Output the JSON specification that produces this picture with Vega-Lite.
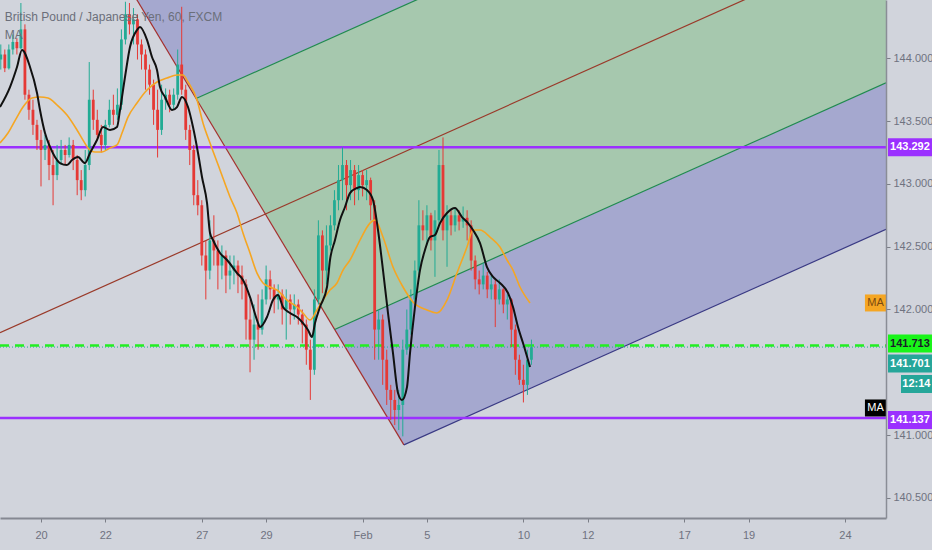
{
  "$schema": "https://vega.github.io/schema/vega-lite/v6.json",
  "width": 886,
  "height": 518,
  "autosize": {"type": "none"},
  "padding": {"left": 0, "top": 0, "right": 46, "bottom": 32},
  "background": "#d1d4dc",
  "datasets": {
    "candles": [
      {"d":-1.25,"o":143.99,"h":144.11,"l":143.91,"c":144.03},
      {"d":-1.125,"o":144.03,"h":144.07,"l":143.89,"c":143.92},
      {"d":-1,"o":143.92,"h":144.11,"l":143.91,"c":144.07},
      {"d":-0.875,"o":144.07,"h":144.19,"l":144.03,"c":144.13},
      {"d":-0.75,"o":144.13,"h":144.16,"l":144.03,"c":144.08},
      {"d":-0.625,"o":144.08,"h":144.44,"l":144.07,"c":144.23},
      {"d":-0.5,"o":144.23,"h":144.27,"l":143.67,"c":143.71},
      {"d":-0.375,"o":143.71,"h":143.75,"l":143.51,"c":143.59},
      {"d":-0.25,"o":143.59,"h":143.67,"l":143.39,"c":143.47},
      {"d":-0.125,"o":143.47,"h":143.51,"l":143.27,"c":143.35},
      {"d":0,"o":143.35,"h":143.43,"l":142.98,"c":143.27},
      {"d":0.125,"o":143.27,"h":143.39,"l":143.19,"c":143.31},
      {"d":0.25,"o":143.31,"h":143.35,"l":143.03,"c":143.15},
      {"d":0.375,"o":143.15,"h":143.27,"l":142.83,"c":143.07},
      {"d":0.5,"o":143.07,"h":143.31,"l":143.03,"c":143.19},
      {"d":0.625,"o":143.19,"h":143.35,"l":143.15,"c":143.27},
      {"d":0.75,"o":143.27,"h":143.31,"l":143.15,"c":143.23},
      {"d":0.875,"o":143.23,"h":143.37,"l":143.21,"c":143.31},
      {"d":1,"o":143.31,"h":143.35,"l":143.11,"c":143.19},
      {"d":1.125,"o":143.19,"h":143.23,"l":142.91,"c":143.03},
      {"d":1.25,"o":143.03,"h":143.11,"l":142.87,"c":142.95},
      {"d":1.375,"o":142.95,"h":143.27,"l":142.9,"c":143.15},
      {"d":1.5,"o":143.15,"h":143.97,"l":143.11,"c":143.67},
      {"d":1.625,"o":143.67,"h":143.75,"l":143.43,"c":143.51},
      {"d":1.75,"o":143.51,"h":143.59,"l":143.35,"c":143.39},
      {"d":1.875,"o":143.39,"h":143.47,"l":143.25,"c":143.31},
      {"d":2,"o":143.31,"h":143.51,"l":143.27,"c":143.47},
      {"d":2.125,"o":143.47,"h":143.67,"l":143.45,"c":143.59},
      {"d":2.25,"o":143.59,"h":143.71,"l":143.47,"c":143.55},
      {"d":2.375,"o":143.55,"h":143.76,"l":143.51,"c":143.63},
      {"d":2.5,"o":143.63,"h":144.23,"l":143.59,"c":144.15},
      {"d":2.625,"o":144.15,"h":144.45,"l":144.11,"c":144.35},
      {"d":2.75,"o":144.35,"h":144.44,"l":144.19,"c":144.27},
      {"d":2.875,"o":144.27,"h":144.4,"l":144.11,"c":144.31},
      {"d":3,"o":144.31,"h":144.35,"l":143.99,"c":144.11},
      {"d":3.125,"o":144.11,"h":144.15,"l":143.91,"c":144.03},
      {"d":3.25,"o":144.03,"h":144.07,"l":143.75,"c":143.91},
      {"d":3.375,"o":143.91,"h":143.95,"l":143.71,"c":143.79},
      {"d":3.5,"o":143.79,"h":143.83,"l":143.47,"c":143.59},
      {"d":3.625,"o":143.59,"h":143.75,"l":143.21,"c":143.43},
      {"d":3.75,"o":143.43,"h":143.79,"l":143.39,"c":143.67},
      {"d":3.875,"o":143.67,"h":143.76,"l":143.59,"c":143.71},
      {"d":4,"o":143.71,"h":143.75,"l":143.57,"c":143.63},
      {"d":4.125,"o":143.63,"h":143.76,"l":143.59,"c":143.71},
      {"d":4.25,"o":143.71,"h":144.07,"l":143.67,"c":143.95},
      {"d":4.375,"o":143.95,"h":144.41,"l":143.71,"c":143.75},
      {"d":4.5,"o":143.75,"h":143.79,"l":143.35,"c":143.43},
      {"d":4.625,"o":143.43,"h":143.47,"l":143.15,"c":143.27},
      {"d":4.75,"o":143.27,"h":143.31,"l":142.83,"c":142.91},
      {"d":4.875,"o":142.91,"h":143.03,"l":142.75,"c":142.83},
      {"d":5,"o":142.83,"h":142.87,"l":142.35,"c":142.43},
      {"d":5.125,"o":142.43,"h":142.55,"l":142.08,"c":142.31},
      {"d":5.25,"o":142.31,"h":142.71,"l":142.24,"c":142.55},
      {"d":5.375,"o":142.55,"h":142.75,"l":142.35,"c":142.47},
      {"d":5.5,"o":142.47,"h":142.55,"l":142.16,"c":142.35},
      {"d":5.625,"o":142.35,"h":142.51,"l":142.24,"c":142.43},
      {"d":5.75,"o":142.43,"h":142.47,"l":142.13,"c":142.27},
      {"d":5.875,"o":142.27,"h":142.43,"l":142.16,"c":142.31},
      {"d":6,"o":142.31,"h":142.43,"l":142.2,"c":142.35},
      {"d":6.125,"o":142.35,"h":142.39,"l":142.13,"c":142.27},
      {"d":6.25,"o":142.27,"h":142.35,"l":142.08,"c":142.2},
      {"d":6.375,"o":142.2,"h":142.24,"l":141.76,"c":141.92},
      {"d":6.5,"o":141.92,"h":142.08,"l":141.5,"c":141.76},
      {"d":6.625,"o":141.76,"h":142.04,"l":141.6,"c":141.88},
      {"d":6.75,"o":141.88,"h":142.12,"l":141.68,"c":141.84},
      {"d":6.875,"o":141.84,"h":142.16,"l":141.8,"c":142.08},
      {"d":7,"o":142.08,"h":142.35,"l":142.04,"c":142.24},
      {"d":7.125,"o":142.24,"h":142.31,"l":142.08,"c":142.16},
      {"d":7.25,"o":142.16,"h":142.2,"l":141.97,"c":142.08},
      {"d":7.375,"o":142.08,"h":142.2,"l":142,"c":142.12},
      {"d":7.5,"o":142.12,"h":142.16,"l":141.88,"c":142},
      {"d":7.625,"o":142,"h":142.16,"l":141.76,"c":142.08},
      {"d":7.75,"o":142.08,"h":142.12,"l":141.88,"c":142},
      {"d":7.875,"o":142,"h":142.12,"l":141.92,"c":142.04},
      {"d":8,"o":142.04,"h":142.08,"l":141.88,"c":141.96},
      {"d":8.125,"o":141.96,"h":142,"l":141.73,"c":141.88},
      {"d":8.25,"o":141.88,"h":141.92,"l":141.56,"c":141.68},
      {"d":8.375,"o":141.68,"h":141.76,"l":141.28,"c":141.52},
      {"d":8.5,"o":141.52,"h":142.16,"l":141.48,"c":142.08},
      {"d":8.625,"o":142.08,"h":142.71,"l":142.04,"c":142.59},
      {"d":8.75,"o":142.59,"h":142.63,"l":142.13,"c":142.31},
      {"d":8.875,"o":142.31,"h":142.67,"l":142.2,"c":142.51},
      {"d":9,"o":142.51,"h":142.75,"l":142.47,"c":142.67},
      {"d":9.125,"o":142.67,"h":142.95,"l":142.63,"c":142.87},
      {"d":9.25,"o":142.87,"h":143.15,"l":142.79,"c":143.03},
      {"d":9.375,"o":143.03,"h":143.29,"l":142.87,"c":143.15},
      {"d":9.5,"o":143.15,"h":143.19,"l":142.79,"c":142.99},
      {"d":9.625,"o":142.99,"h":143.19,"l":142.87,"c":143.11},
      {"d":9.75,"o":143.11,"h":143.15,"l":142.83,"c":142.95},
      {"d":9.875,"o":142.95,"h":143.15,"l":142.87,"c":143.07},
      {"d":10,"o":143.07,"h":143.11,"l":142.9,"c":142.99},
      {"d":10.125,"o":142.99,"h":143.11,"l":142.87,"c":143.03},
      {"d":10.25,"o":143.03,"h":143.05,"l":142.71,"c":142.83},
      {"d":10.375,"o":142.83,"h":142.87,"l":141.6,"c":141.84},
      {"d":10.5,"o":141.84,"h":142,"l":141.6,"c":141.92},
      {"d":10.625,"o":141.92,"h":141.96,"l":141.4,"c":141.6},
      {"d":10.75,"o":141.6,"h":141.68,"l":141.24,"c":141.36},
      {"d":10.875,"o":141.36,"h":141.4,"l":141.12,"c":141.28},
      {"d":11,"o":141.28,"h":141.36,"l":141.08,"c":141.2},
      {"d":11.125,"o":141.2,"h":141.36,"l":141.04,"c":141.24},
      {"d":11.25,"o":141.24,"h":141.76,"l":140.99,"c":141.68},
      {"d":11.375,"o":141.68,"h":142,"l":141.64,"c":141.84},
      {"d":11.5,"o":141.84,"h":142.16,"l":141.8,"c":142.08},
      {"d":11.625,"o":142.08,"h":142.39,"l":142.04,"c":142.31},
      {"d":11.75,"o":142.31,"h":142.87,"l":142.27,"c":142.67},
      {"d":11.875,"o":142.67,"h":142.79,"l":142.55,"c":142.63},
      {"d":12,"o":142.63,"h":142.83,"l":142.51,"c":142.75},
      {"d":12.125,"o":142.75,"h":142.77,"l":142.47,"c":142.55},
      {"d":12.25,"o":142.55,"h":142.79,"l":142.26,"c":142.71},
      {"d":12.375,"o":142.71,"h":143.27,"l":142.67,"c":143.15},
      {"d":12.5,"o":143.15,"h":143.37,"l":142.55,"c":142.63},
      {"d":12.625,"o":142.63,"h":142.83,"l":142.34,"c":142.75},
      {"d":12.75,"o":142.75,"h":142.79,"l":142.59,"c":142.67},
      {"d":12.875,"o":142.67,"h":142.81,"l":142.62,"c":142.75},
      {"d":13,"o":142.75,"h":142.79,"l":142.63,"c":142.7},
      {"d":13.125,"o":142.7,"h":142.82,"l":142.65,"c":142.73},
      {"d":13.25,"o":142.73,"h":142.79,"l":142.55,"c":142.67},
      {"d":13.375,"o":142.67,"h":142.71,"l":142.31,"c":142.39},
      {"d":13.5,"o":142.39,"h":142.43,"l":142.16,"c":142.24},
      {"d":13.625,"o":142.24,"h":142.31,"l":142.12,"c":142.2},
      {"d":13.75,"o":142.2,"h":142.37,"l":142.16,"c":142.27},
      {"d":13.875,"o":142.27,"h":142.3,"l":142.09,"c":142.16},
      {"d":14,"o":142.16,"h":142.27,"l":142.08,"c":142.2},
      {"d":14.125,"o":142.2,"h":142.24,"l":141.86,"c":142.08},
      {"d":14.25,"o":142.08,"h":142.24,"l":142.04,"c":142.16},
      {"d":14.375,"o":142.16,"h":142.17,"l":141.97,"c":142.04},
      {"d":14.5,"o":142.04,"h":142.12,"l":141.92,"c":142.08},
      {"d":14.625,"o":142.08,"h":142.09,"l":141.7,"c":141.84},
      {"d":14.75,"o":141.84,"h":141.88,"l":141.48,"c":141.6},
      {"d":14.875,"o":141.6,"h":141.64,"l":141.4,"c":141.44},
      {"d":15,"o":141.44,"h":141.56,"l":141.26,"c":141.4},
      {"d":15.125,"o":141.4,"h":141.68,"l":141.32,"c":141.6},
      {"d":15.25,"o":141.6,"h":141.76,"l":141.56,"c":141.7}
    ],
    "maFast": [
      {"d":-1.275,"p":143.612},{"d":-0.964,"p":143.771},{"d":-0.746,"p":143.931},{"d":-0.591,"p":144.066},
      {"d":-0.342,"p":143.931},{"d":-0.124,"p":143.724},{"d":-0.031,"p":143.588},{"d":0.124,"p":143.405},
      {"d":0.28,"p":143.294},{"d":0.435,"p":143.214},{"d":0.591,"p":143.166},{"d":0.808,"p":143.15},
      {"d":0.964,"p":143.19},{"d":1.15,"p":143.214},{"d":1.368,"p":143.166},{"d":1.524,"p":143.246},
      {"d":1.741,"p":143.349},{"d":1.928,"p":143.453},{"d":2.146,"p":143.429},{"d":2.363,"p":143.453},
      {"d":2.456,"p":143.588},{"d":2.612,"p":143.851},{"d":2.767,"p":144.09},{"d":2.985,"p":144.225},
      {"d":3.078,"p":144.249},{"d":3.296,"p":144.146},{"d":3.451,"p":144.01},{"d":3.607,"p":143.907},
      {"d":3.7,"p":143.771},{"d":3.856,"p":143.692},{"d":4.073,"p":143.588},{"d":4.229,"p":143.612},
      {"d":4.384,"p":143.692},{"d":4.571,"p":143.612},{"d":4.726,"p":143.453},{"d":4.882,"p":143.246},
      {"d":5.006,"p":143.055},{"d":5.162,"p":142.848},{"d":5.255,"p":142.609},{"d":5.348,"p":142.553},
      {"d":5.566,"p":142.45},{"d":5.784,"p":142.394},{"d":6.095,"p":142.29},{"d":6.281,"p":142.235},
      {"d":6.499,"p":142.099},{"d":6.716,"p":141.916},{"d":6.81,"p":141.86},{"d":7.027,"p":141.94},
      {"d":7.214,"p":142.075},{"d":7.369,"p":142.115},{"d":7.525,"p":142.02},{"d":7.743,"p":141.972},
      {"d":7.96,"p":141.94},{"d":8.147,"p":141.892},{"d":8.302,"p":141.837},{"d":8.427,"p":141.781},
      {"d":8.52,"p":141.892},{"d":8.675,"p":142.02},{"d":8.893,"p":142.179},{"d":8.986,"p":142.394},
      {"d":9.142,"p":142.553},{"d":9.297,"p":142.712},{"d":9.453,"p":142.816},{"d":9.608,"p":142.927},
      {"d":9.826,"p":142.967},{"d":9.919,"p":142.975},{"d":10.137,"p":142.951},{"d":10.323,"p":142.872},
      {"d":10.479,"p":142.633},{"d":10.634,"p":142.314},{"d":10.79,"p":141.972},{"d":10.945,"p":141.653},
      {"d":11.101,"p":141.335},{"d":11.225,"p":141.279},{"d":11.381,"p":141.383},{"d":11.474,"p":141.653},
      {"d":11.629,"p":142.02},{"d":11.785,"p":142.314},{"d":11.94,"p":142.474},{"d":12.096,"p":142.577},
      {"d":12.251,"p":142.593},{"d":12.407,"p":142.688},{"d":12.624,"p":142.768},{"d":12.873,"p":142.808},
      {"d":13.091,"p":142.736},{"d":13.277,"p":142.688},{"d":13.433,"p":142.633},{"d":13.651,"p":142.529},
      {"d":13.868,"p":142.338},{"d":14.055,"p":142.259},{"d":14.272,"p":142.211},{"d":14.521,"p":142.131},
      {"d":14.677,"p":142.02},{"d":14.832,"p":141.86},{"d":14.988,"p":141.733},{"d":15.206,"p":141.542}
    ],
    "maSlow": [
      {"d":-1.275,"p":143.325},{"d":-1.026,"p":143.405},{"d":-0.746,"p":143.532},{"d":-0.56,"p":143.612},
      {"d":-0.28,"p":143.684},{"d":-0.031,"p":143.692},{"d":0.218,"p":143.684},{"d":0.498,"p":143.628},
      {"d":0.808,"p":143.548},{"d":1.119,"p":143.429},{"d":1.306,"p":143.349},{"d":1.461,"p":143.286},
      {"d":1.679,"p":143.254},{"d":1.897,"p":143.254},{"d":2.146,"p":143.286},{"d":2.363,"p":143.31},
      {"d":2.519,"p":143.405},{"d":2.705,"p":143.532},{"d":2.985,"p":143.644},{"d":3.296,"p":143.747},
      {"d":3.607,"p":143.811},{"d":3.918,"p":143.843},{"d":4.229,"p":143.867},{"d":4.415,"p":143.867},
      {"d":4.571,"p":143.811},{"d":4.851,"p":143.668},{"d":5.037,"p":143.485},{"d":5.255,"p":143.325},
      {"d":5.566,"p":143.111},{"d":5.877,"p":142.896},{"d":6.095,"p":142.768},{"d":6.281,"p":142.609},
      {"d":6.499,"p":142.45},{"d":6.716,"p":142.29},{"d":6.903,"p":142.211},{"d":7.121,"p":142.179},
      {"d":7.338,"p":142.155},{"d":7.649,"p":142.075},{"d":7.96,"p":142.02},{"d":8.147,"p":141.972},
      {"d":8.364,"p":141.916},{"d":8.582,"p":141.996},{"d":8.769,"p":142.075},{"d":8.986,"p":142.155},
      {"d":9.204,"p":142.211},{"d":9.391,"p":142.314},{"d":9.608,"p":142.394},{"d":9.919,"p":142.553},
      {"d":10.23,"p":142.688},{"d":10.386,"p":142.712},{"d":10.634,"p":142.577},{"d":10.945,"p":142.338},
      {"d":11.256,"p":142.179},{"d":11.567,"p":142.06},{"d":12.002,"p":141.996},{"d":12.313,"p":141.972},
      {"d":12.624,"p":142.075},{"d":12.935,"p":142.29},{"d":13.246,"p":142.497},{"d":13.433,"p":142.633},
      {"d":13.651,"p":142.633},{"d":13.962,"p":142.577},{"d":14.272,"p":142.497},{"d":14.49,"p":142.394},
      {"d":14.677,"p":142.314},{"d":14.894,"p":142.179},{"d":15.206,"p":142.052}
    ],
    "zones": [
      {"zone":"outer","d":2.668,"p":144.599,"p2":144.599},
      {"zone":"outer","d":4.822,"p":144.846,"p2":143.68},
      {"zone":"outer","d":26.275,"p":147.302,"p2":146.136},
      {"zone":"inner","d":4.822,"p":143.68,"p2":143.68},
      {"zone":"inner","d":9.13,"p":144.173,"p2":141.841},
      {"zone":"inner","d":26.275,"p":146.136,"p2":143.804},
      {"zone":"lower","d":9.13,"p":141.841,"p2":141.841},
      {"zone":"lower","d":11.284,"p":142.088,"p2":140.922},
      {"zone":"lower","d":26.275,"p":143.804,"p2":142.638}
    ],
    "lines": [
      {"line":"cross","d":2.668,"p":144.599},{"line":"cross","d":11.284,"p":140.922},
      {"line":"upper","d":4.822,"p":143.68},{"line":"upper","d":26.275,"p":146.136},
      {"line":"inner","d":9.13,"p":141.841},{"line":"inner","d":26.275,"p":143.804},
      {"line":"lower","d":11.284,"p":140.922},{"line":"lower","d":26.275,"p":142.638},
      {"line":"trend","d":-1.275,"p":141.816},{"line":"trend","d":26.275,"p":144.97}
    ],
    "levels": [
      {"kind":"purple","p":143.292},
      {"kind":"purple","p":141.137},
      {"kind":"last","p":141.701},
      {"kind":"green","p":141.713}
    ],
    "tags": [
      {"kind":"purple","p":143.292,"label":"143.292"},
      {"kind":"green","p":141.729,"label":"141.713"},
      {"kind":"teal","p":141.57,"label":"141.701"},
      {"kind":"purple","p":141.12,"label":"141.137"}
    ],
    "clock": [{"p":141.407,"label":"12:14"}],
    "maTags": [
      {"kind":"slow","p":142.052,"label":"MA"},
      {"kind":"fast","p":141.216,"label":"MA"}
    ],
    "legend": [{"label":"British Pound / Japanese Yen, 60, FXCM\nMA"}]
  },
  "layer": [
    {
      "data": {"name": "zones"},
      "mark": {"type": "area", "clip": true},
      "encoding": {
        "x": {
          "field": "d",
          "type": "quantitative",
          "scale": {"domain": [-1.275, 26.275], "nice": false, "zero": false, "padding": 0},
          "axis": {
            "title": null,
            "zindex": 1,
            "values": [0, 2, 5, 7, 10, 12, 15, 17, 20, 22, 25],
            "labelExpr": "['20','','22','','','27','','29','','','Feb','','5','','','10','','12','','','17','','19','','','24'][datum.value]",
            "labelPadding": 7,
            "domainColor": "#858892",
            "domainWidth": 2
          }
        },
        "y": {
          "field": "p",
          "type": "quantitative",
          "scale": {"domain": [140.34, 144.464], "nice": false, "zero": false},
          "axis": {
            "orient": "right",
            "title": null,
            "zindex": 1,
            "values": [140.5, 141, 142, 142.5, 143, 143.5, 144],
            "format": ".3f",
            "labelPadding": 3,
            "domainColor": "#8a8d96",
            "domainWidth": 1.5
          }
        },
        "y2": {"field": "p2"},
        "color": {
          "field": "zone",
          "type": "nominal",
          "scale": {"domain": ["outer", "inner", "lower"], "range": ["#a5a8cf", "#a6c8ae", "#a5a8cf"]},
          "legend": null
        }
      }
    },
    {
      "data": {"name": "lines"},
      "mark": {"type": "line", "clip": true, "strokeWidth": 1.2},
      "encoding": {
        "x": {"field": "d", "type": "quantitative"},
        "y": {"field": "p", "type": "quantitative"},
        "color": {
          "field": "line",
          "type": "nominal",
          "scale": {"domain": ["cross", "upper", "inner", "lower", "trend"], "range": ["#a5302e", "#1f8a4f", "#1f8a4f", "#3a3a84", "#9a3a2a"]},
          "legend": null
        }
      }
    },
    {
      "data": {"name": "levels"},
      "transform": [{"filter": "datum.kind == 'purple'"}],
      "mark": {"type": "rule", "color": "#9b30ff", "strokeWidth": 2.5},
      "encoding": {
        "x": {"datum": -1.275},
        "x2": {"datum": 26.275},
        "y": {"field": "p", "type": "quantitative"}
      }
    },
    {
      "data": {"name": "levels"},
      "transform": [{"filter": "datum.kind == 'last'"}],
      "mark": {"type": "rule", "color": "#26a69a", "strokeWidth": 1, "strokeDash": [1, 2]},
      "encoding": {
        "x": {"datum": -1.275},
        "x2": {"datum": 26.275},
        "y": {"field": "p", "type": "quantitative"}
      }
    },
    {
      "data": {"name": "levels"},
      "transform": [{"filter": "datum.kind == 'green'"}],
      "mark": {"type": "rule", "color": "#22ee22", "strokeWidth": 2.4, "strokeDash": [9, 6]},
      "encoding": {
        "x": {"datum": -1.275},
        "x2": {"datum": 26.275},
        "y": {"field": "p", "type": "quantitative"}
      }
    },
    {
      "data": {"name": "candles"},
      "mark": {"type": "rule", "strokeWidth": 1},
      "encoding": {
        "x": {"field": "d", "type": "quantitative"},
        "y": {"field": "l", "type": "quantitative"},
        "y2": {"field": "h"},
        "color": {"condition": {"test": "datum.c >= datum.o", "value": "#22ab94"}, "value": "#e53935"}
      }
    },
    {
      "data": {"name": "candles"},
      "mark": {"type": "bar", "width": 2.8},
      "encoding": {
        "x": {"field": "d", "type": "quantitative"},
        "y": {"field": "o", "type": "quantitative"},
        "y2": {"field": "c"},
        "color": {"condition": {"test": "datum.c >= datum.o", "value": "#22ab94"}, "value": "#e53935"}
      }
    },
    {
      "data": {"name": "maSlow"},
      "mark": {"type": "line", "color": "#f5a623", "strokeWidth": 1.6, "interpolate": "monotone"},
      "encoding": {
        "x": {"field": "d", "type": "quantitative"},
        "y": {"field": "p", "type": "quantitative"}
      }
    },
    {
      "data": {"name": "maFast"},
      "mark": {"type": "line", "color": "#111111", "strokeWidth": 2, "interpolate": "monotone"},
      "encoding": {
        "x": {"field": "d", "type": "quantitative"},
        "y": {"field": "p", "type": "quantitative"}
      }
    },
    {
      "data": {"name": "tags"},
      "mark": {"type": "rule", "strokeWidth": 18, "strokeCap": "butt"},
      "encoding": {
        "x": {"datum": 26.337},
        "x2": {"datum": 27.705},
        "y": {"field": "p", "type": "quantitative"},
        "color": {
          "field": "kind",
          "type": "nominal",
          "scale": {"domain": ["purple", "green", "teal"], "range": ["#9b30ff", "#19f519", "#26a69a"]},
          "legend": null
        }
      }
    },
    {
      "data": {"name": "tags"},
      "mark": {"type": "text", "align": "center", "baseline": "middle", "fontSize": 11, "fontWeight": "bold"},
      "encoding": {
        "x": {"datum": 27.02},
        "y": {"field": "p", "type": "quantitative"},
        "text": {"field": "label"},
        "color": {"condition": {"test": "datum.kind == 'green'", "value": "#1b1f2a"}, "value": "#ffffff"}
      }
    },
    {
      "data": {"name": "clock"},
      "mark": {"type": "rule", "strokeWidth": 18, "strokeCap": "butt", "color": "#26a69a"},
      "encoding": {
        "x": {"datum": 26.741},
        "x2": {"datum": 27.705},
        "y": {"field": "p", "type": "quantitative"}
      }
    },
    {
      "data": {"name": "clock"},
      "mark": {"type": "text", "align": "center", "baseline": "middle", "fontSize": 11, "fontWeight": "bold", "color": "#ffffff"},
      "encoding": {
        "x": {"datum": 27.22},
        "y": {"field": "p", "type": "quantitative"},
        "text": {"field": "label"}
      }
    },
    {
      "data": {"name": "maTags"},
      "mark": {"type": "rule", "strokeWidth": 17, "strokeCap": "butt"},
      "encoding": {
        "x": {"datum": 25.62},
        "x2": {"datum": 26.275},
        "y": {"field": "p", "type": "quantitative"},
        "color": {
          "field": "kind",
          "type": "nominal",
          "scale": {"domain": ["slow", "fast"], "range": ["#f5a623", "#000000"]},
          "legend": null
        }
      }
    },
    {
      "data": {"name": "maTags"},
      "mark": {"type": "text", "align": "center", "baseline": "middle", "fontSize": 11},
      "encoding": {
        "x": {"datum": 25.948},
        "y": {"field": "p", "type": "quantitative"},
        "text": {"field": "label"},
        "color": {"condition": {"test": "datum.kind == 'slow'", "value": "#7a4a10"}, "value": "#ffffff"}
      }
    },
    {
      "data": {"name": "legend"},
      "mark": {"type": "text", "align": "left", "baseline": "top", "lineBreak": "\n", "lineHeight": 18, "fontSize": 12, "color": "#6b6f7a"},
      "encoding": {
        "x": {"datum": -1.13},
        "y": {"datum": 144.37},
        "text": {"field": "label"}
      }
    }
  ],
  "resolve": {"scale": {"color": "independent"}},
  "config": {
    "view": {"stroke": null},
    "font": "Liberation Sans",
    "axis": {
      "grid": false,
      "labelColor": "#6f7280",
      "labelFontSize": 11,
      "tickColor": "#7b7e87",
      "tickSize": 4
    }
  }
}
